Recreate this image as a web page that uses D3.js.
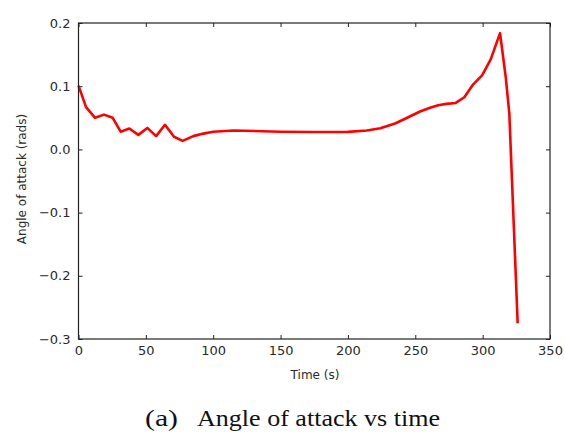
<!DOCTYPE html>
<html>
<head>
<meta charset="utf-8">
<script src="https://cdn.jsdelivr.net/npm/d3@7"></script>
<style>
  body { margin: 0; background: #fff; }
</style>
</head>
<body>
<div class="chart"></div>
<script>
// values
const times = [0, 5.6, 12.3, 18.9, 25.4, 31.3, 37.7, 44.4, 51.1, 57.6, 64.2, 70.9, 77.3, 85.2, 92.7, 100,
  115, 150, 174, 200, 214, 224, 235, 244, 253.5, 261, 267, 273, 280, 286.4, 293, 299.7, 306, 312.9,
  317.1, 319.8, 326]
const angles = [0.101, 0.067, 0.050, 0.055, 0.050, 0.028, 0.033, 0.023, 0.034, 0.021, 0.039, 0.020, 0.0135,
  0.021, 0.025, 0.028, 0.030, 0.028, 0.0275, 0.0277, 0.030, 0.0335, 0.041, 0.050, 0.060, 0.066, 0.070,
  0.072, 0.0735, 0.0825, 0.103, 0.1175, 0.1425, 0.184, 0.115, 0.057, -0.275]
const xTicks = [0, 50, 100, 150, 200, 250, 300, 350]
const yTicks = [0.2, 0.1, 0.0, -0.1, -0.2, -0.3]

const margin = {top: 23, right: 15, bottom: 96, left: 78.5},
      width = 550 - margin.left,
      height = 339 - margin.top

const svg = d3.select(".chart")
  .append("svg")
    .attr("width", 565)
    .attr("height", 435)

const g = svg.append("g")
    .attr("transform", `translate(${margin.left},${margin.top})`)

const x = d3.scaleLinear().domain([0, 350]).range([0, width])
const y = d3.scaleLinear().domain([-0.3, 0.2]).range([height, 0])

const fontAxis = "'DejaVu Sans', sans-serif"
const textColor = "#2a2a2a"

// ticks point inward on all four sides
function styleAxis(sel){
    sel.select(".domain").remove()
    sel.selectAll("line").attr("stroke", "#222")
    sel.selectAll("text").style("font-family", fontAxis).style("font-size", "13px").attr("fill", textColor)
}

g.append("g")
  .attr("transform", `translate(0,${height})`)
  .call(d3.axisBottom(x).tickValues(xTicks).tickSize(-4).tickPadding(7).tickFormat(d3.format("d")))
  .call(styleAxis)

g.append("g")
  .call(d3.axisTop(x).tickValues(xTicks).tickSize(-4).tickFormat(""))
  .call(styleAxis)

g.append("g")
  .call(d3.axisLeft(y).tickValues(yTicks).tickSize(-4).tickPadding(8).tickFormat(d3.format(".1f")))
  .call(styleAxis)

g.append("g")
  .attr("transform", `translate(${width},0)`)
  .call(d3.axisRight(y).tickValues(yTicks).tickSize(-4).tickFormat(""))
  .call(styleAxis)

// the line
const pts = times.map((t, i) => [t, angles[i]])
g.append("path")
  .datum(pts)
  .attr("fill", "none")
  .attr("stroke", "#ff0000")
  .attr("stroke-width", 2.6)
  .attr("stroke-linejoin", "round")
  .attr("d", d3.line().x(d => x(d[0])).y(d => y(d[1])))

// frame
g.append("rect")
  .attr("width", width)
  .attr("height", height)
  .attr("fill", "none")
  .attr("stroke", "#222")
  .attr("stroke-width", 1.2)

// axis labels
svg.append("text")
  .attr("x", 315)
  .attr("y", 379)
  .attr("text-anchor", "middle")
  .attr("fill", textColor)
  .style("font-family", fontAxis)
  .style("font-size", "12px")
  .text("Time (s)")

svg.append("text")
  .attr("transform", "translate(26,179) rotate(-90)")
  .attr("text-anchor", "middle")
  .attr("fill", textColor)
  .style("font-family", fontAxis)
  .style("font-size", "12px")
  .text("Angle of attack (rads)")

// caption
const cap = svg.append("text")
  .attr("y", 426)
  .style("font-family", "'Liberation Serif', 'Times New Roman', serif")
  .style("font-size", "24px")
  .attr("fill", "#111")
cap.append("tspan").attr("x", 145).attr("textLength", 33).attr("lengthAdjust", "spacingAndGlyphs").text("(a)")
cap.append("tspan").attr("x", 197).attr("textLength", 243).attr("lengthAdjust", "spacingAndGlyphs").text("Angle of attack vs time")
</script>
</body>
</html>
